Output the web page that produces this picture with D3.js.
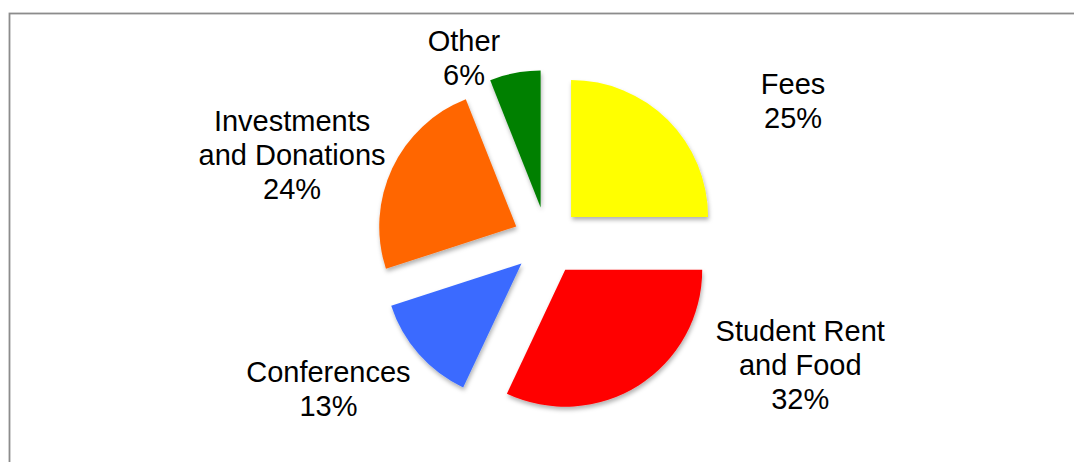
<!DOCTYPE html>
<html lang="en">

<head>
    <meta charset="utf-8">
    <title>Income pie</title>
    <script src="https://d3js.org/d3.v7.min.js"></script>
    <style>
        body { margin: 0; background: #fff; }
        text { font-family: "Liberation Sans", Arial, sans-serif; font-size: 29px; fill: #000; }
    </style>
</head>

<body>
    <script type="text/javascript">
        var w = 1074;
        var h = 462;

        // data
        var categories = ["Fees", "Student Rent and Food", "Conferences", "Investments and Donations", "Other"];
        var values = [25, 32, 13, 24, 6];
        var labelLines = [["Fees", "25%"], ["Student Rent", "and Food", "32%"], ["Conferences", "13%"],
            ["Investments", "and Donations", "24%"], ["Other", "6%"]];
        var colors = ["#ffff00", "#ff0000", "#3a6bff", "#ff6600", "#008000"];

        // layout of the labels (angle in degrees from 12 o'clock, distance from centre)
        var labelAngle = [60.4, 116.1, 235.9, 288.6, 335.6];
        var labelDist = [283, 282, 264, 269, 201];

        var cx = 547, cy = 241, radius = 137, explode = 34, lineH = 34;

        var svg = d3.select("body")
            .append("svg").attr("width", w).attr("height", h);

        // frame
        svg.append("rect")
            .attr("x", 9.5).attr("y", 13.5)
            .attr("width", w + 20).attr("height", h + 20)
            .attr("fill", "none").attr("stroke", "#8c8c8c").attr("stroke-width", 1.8);

        var defs = svg.append("defs");
        defs.append("filter").attr("id", "shadow")
            .attr("x", "-20%").attr("y", "-20%").attr("width", "140%").attr("height", "140%")
            .append("feDropShadow")
            .attr("dx", 1).attr("dy", 3).attr("stdDeviation", 2)
            .attr("flood-color", "#000").attr("flood-opacity", 0.3);

        var pie = d3.pie().sort(null).value(function (d) { return d; });
        var arcs = pie(values);
        var arc = d3.arc().innerRadius(0).outerRadius(radius);

        var g = svg.append("g").attr("transform", "translate(" + cx + "," + cy + ")");

        g.selectAll("path.slice")
            .data(arcs).enter().append("path")
            .attr("class", "slice")
            .attr("d", arc)
            .attr("fill", function (d, i) { return colors[i]; })
            .attr("filter", "url(#shadow)")
            .attr("transform", function (d) {
                var mid = (d.startAngle + d.endAngle) / 2;
                return "translate(" + (Math.sin(mid) * explode) + "," + (-Math.cos(mid) * explode) + ")";
            });

        // labels
        g.selectAll("text.lbl")
            .data(categories).enter().append("text")
            .attr("class", "lbl")
            .attr("text-anchor", "middle")
            .attr("dominant-baseline", "central")
            .each(function (d, i) {
                var a = labelAngle[i] * Math.PI / 180;
                var la = d3.arc().innerRadius(labelDist[i]).outerRadius(labelDist[i])
                    .startAngle(a).endAngle(a);
                var p = la.centroid();
                var lines = labelLines[i];
                var t = d3.select(this);
                lines.forEach(function (s, k) {
                    t.append("tspan")
                        .attr("x", p[0])
                        .attr("y", p[1] + (k - (lines.length - 1) / 2) * lineH)
                        .text(s);
                });
            });
    </script>
</body>

</html>
